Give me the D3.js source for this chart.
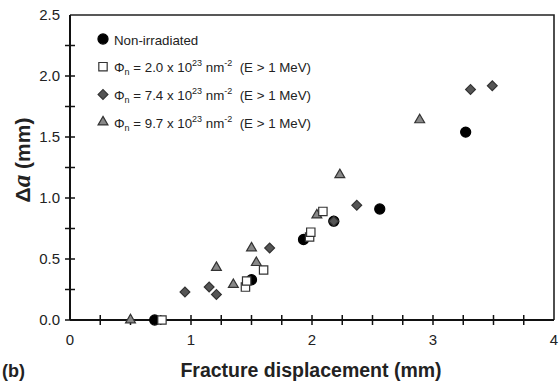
<!DOCTYPE html>
<html>
<head>
<meta charset="utf-8">
<script src="https://cdn.jsdelivr.net/npm/d3@7"></script>
<style>
  body { margin: 0; background: #fff; }
  svg text { font-family: "Liberation Sans", Arial, sans-serif; }
</style>
</head>
<body>
<div id="chart"></div>
<script>
// Data: [fracture displacement (mm), delta a (mm)]
const nonIrradiated = [[0.70, 0], [1.50, 0.33], [1.93, 0.66], [2.18, 0.81], [2.56, 0.91], [3.27, 1.54]];
const phi20 = [[0.76, 0], [1.45, 0.27], [1.46, 0.32], [1.60, 0.41], [1.98, 0.68], [1.99, 0.72], [2.09, 0.89]];
const phi74 = [[0.95, 0.23], [1.15, 0.27], [1.21, 0.21], [1.65, 0.59], [2.18, 0.81], [2.37, 0.94], [3.31, 1.89], [3.49, 1.92]];
const phi97 = [[0.50, 0], [1.21, 0.43], [1.35, 0.29], [1.50, 0.59], [1.54, 0.47], [2.04, 0.86], [2.23, 1.19], [2.89, 1.64]];
const fluences = ["2.0", "7.4", "9.7"];
const xTicks = [0, 1, 2, 3, 4];
const yTicks = [0, 0.5, 1.0, 1.5, 2.0, 2.5];

const width = 559, height = 384;
const margin = { top: 15, right: 5, bottom: 64, left: 70 };

const svg = d3.select("#chart").append("svg")
  .attr("width", width).attr("height", height);

const x = d3.scaleLinear().domain([0, 4]).range([margin.left, width - margin.right]);
const y = d3.scaleLinear().domain([0, 2.5]).range([height - margin.bottom, margin.top]);

// Frame (top and right)
svg.append("path")
  .attr("d", `M${x(0)},${y(2.5)}H${x(4)}V${y(0)}`)
  .attr("fill", "none").attr("stroke", "#222").attr("stroke-width", 1.6);

// Minor ticks every 0.25, crossing the axis lines
const xMinor = d3.range(0, 4.001, 0.25);
const yMinor = d3.range(0, 2.501, 0.25);
svg.append("g").selectAll("line").data(xMinor.slice(1, -1)).join("line")
  .attr("x1", d => x(d)).attr("x2", d => x(d))
  .attr("y1", y(0) - 5).attr("y2", y(0) + 5)
  .attr("stroke", "#111").attr("stroke-width", 1.5);
svg.append("g").selectAll("line").data(yMinor.slice(0, -1)).join("line")
  .attr("y1", d => y(d)).attr("y2", d => y(d))
  .attr("x1", x(0) - 5).attr("x2", x(0) + 5)
  .attr("stroke", "#111").attr("stroke-width", 1.5);

// Axis lines
svg.append("line").attr("x1", x(0)).attr("x2", x(4)).attr("y1", y(0)).attr("y2", y(0))
  .attr("stroke", "#111").attr("stroke-width", 2);
svg.append("line").attr("x1", x(0)).attr("x2", x(0)).attr("y1", y(0)).attr("y2", y(2.5))
  .attr("stroke", "#111").attr("stroke-width", 2);

// Tick labels
svg.append("g").selectAll("text").data(xTicks).join("text")
  .attr("x", d => x(d)).attr("y", y(0) + 25)
  .attr("text-anchor", "middle").attr("font-size", 15).attr("fill", "#222")
  .text(d => d);
svg.append("g").selectAll("text").data(yTicks).join("text")
  .attr("x", x(0) - 10).attr("y", d => y(d) + 5)
  .attr("text-anchor", "end").attr("font-size", 15).attr("fill", "#222")
  .text(d => d.toFixed(1));

// Axis titles
svg.append("text")
  .attr("x", 311).attr("y", 377)
  .attr("text-anchor", "middle").attr("font-size", 19.5).attr("font-weight", "bold").attr("fill", "#222")
  .text("Fracture displacement (mm)");

const yTitle = svg.append("text")
  .attr("transform", `translate(30, 160) rotate(-90)`)
  .attr("text-anchor", "middle").attr("font-size", 21).attr("font-weight", "bold").attr("fill", "#222");
yTitle.append("tspan").text("Δ");
yTitle.append("tspan").attr("font-style", "italic").attr("font-family", "Liberation Serif, serif").attr("font-size", 25).text("a");
yTitle.append("tspan").text(" (mm)");

svg.append("text")
  .attr("x", 2).attr("y", 377)
  .attr("font-size", 18).attr("font-weight", "bold").attr("fill", "#222")
  .text("(b)");

// Marker drawing helpers
const markers = {
  circle: { type: d3.symbolCircle, size: 80, fill: "#000", stroke: "#000", rot: 0 },
  square: { type: d3.symbolSquare, size: 70, fill: "#fff", stroke: "#333", rot: 0 },
  diamond: { type: d3.symbolSquare, size: 48, fill: "#555", stroke: "#333", rot: 45 },
  triangle: { type: d3.symbolTriangle, size: 42, fill: "#888", stroke: "#333", rot: 0 }
};
const drawSeries = (data, m) => {
  const sym = d3.symbol().type(markers[m].type).size(markers[m].size);
  svg.append("g").selectAll("path").data(data).join("path")
    .attr("transform", d => `translate(${x(d[0])},${y(d[1])}) rotate(${markers[m].rot})`)
    .attr("d", sym)
    .attr("fill", markers[m].fill).attr("stroke", markers[m].stroke).attr("stroke-width", 1.2);
};
drawSeries(phi97, "triangle");
drawSeries(nonIrradiated, "circle");
drawSeries(phi74, "diamond");
drawSeries(phi20, "square");

// Legend
const legend = svg.append("g");
const legendRows = [
  { m: "circle", label: null },
  { m: "square", label: fluences[0] },
  { m: "diamond", label: fluences[1] },
  { m: "triangle", label: fluences[2] }
];
legendRows.forEach((r, i) => {
  const ly = 40 + i * 27.7;
  legend.append("path")
    .attr("transform", `translate(103,${ly - 1}) rotate(${markers[r.m].rot})`)
    .attr("d", d3.symbol().type(markers[r.m].type).size(markers[r.m].size))
    .attr("fill", markers[r.m].fill).attr("stroke", markers[r.m].stroke).attr("stroke-width", 1.2);
  const t = legend.append("text").attr("x", 114).attr("y", ly + 4.5)
    .attr("font-size", 13.3).attr("fill", "#222").style("white-space", "pre");
  if (r.label === null) {
    t.text("Non-irradiated");
  } else {
    t.append("tspan").text("Φ");
    t.append("tspan").attr("font-size", 9).attr("dy", 3).text("n");
    t.append("tspan").attr("dy", -3).text(` = ${r.label} x 10`);
    t.append("tspan").attr("font-size", 9).attr("dy", -6).text("23");
    t.append("tspan").attr("dy", 6).text(" nm");
    t.append("tspan").attr("font-size", 9).attr("dy", -6).text("-2");
    t.append("tspan").attr("dy", 6).text("  (E > 1 MeV)");
  }
});
</script>
</body>
</html>
